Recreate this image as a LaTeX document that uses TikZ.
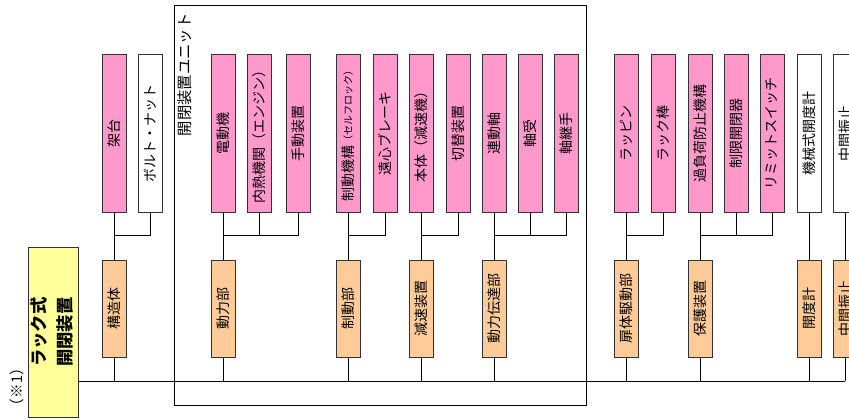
\documentclass[tikz,border=0pt]{standalone}
\usepackage{fontspec}
\setmainfont{Noto Sans CJK JP}
\usepackage{graphicx}
\definecolor{partpink}{HTML}{FF99CC}
\definecolor{grouporange}{HTML}{FFCC99}
\definecolor{rootyellow}{HTML}{FFFF99}
\definecolor{edgegray}{HTML}{333333}
\newcommand{\vtxt}[1]{\rotatebox{90}{#1}}
\tikzset{
  box/.style={draw=edgegray, line width=0.75pt, inner sep=0pt, font=\fontsize{10.5}{12}\selectfont},
  part/.style={box, fill=partpink, minimum width=18pt, minimum height=118.5pt},
  partw/.style={part, fill=white},
  grp/.style={box, fill=grouporange, minimum width=18pt, minimum height=72.75pt},
  root/.style={box, fill=rootyellow, minimum width=36.75pt, minimum height=127.5pt, font=\fontsize{13}{19}\selectfont\bfseries},
}
\begin{document}
\begin{tikzpicture}[x=0.75pt, y=-0.75pt, line width=0.75pt]
\useasboundingbox (0,0) rectangle (849,419);
\coordinate (brk) at (0,235);
\coordinate (bus) at (0,381);
% unit frame
\draw (174,5) rectangle (586,405);
\node (unitlabel) [anchor=north west, inner sep=0pt, font=\fontsize{11.5}{13}\selectfont] at (177,13) {\vtxt{開閉装置ユニット}};
% root
\node (root) [root] at (53.5,332) {\vtxt{\begin{tabular}{@{}c@{}}ラック式\\開閉装置\end{tabular}}};
\node (note) [font=\fontsize{11}{12}\selectfont] at (17,387) {\vtxt{（※1）}};
% parts
\node (kadai) [part] at (114,133) {\vtxt{架台}};
\node (bolt) [partw] at (150,133) {\vtxt{ボルト・ナット}};
\node (motor) [part] at (223,133) {\vtxt{電動機}};
\node (engine) [part] at (259,133) {\vtxt{内熱機関（エンジン）}};
\node (manual) [part] at (298,133) {\vtxt{手動装置}};
\node (brake) [part] at (348,133) {\vtxt{制動機構\raisebox{1pt}{\fontsize{7.5}{8}\selectfont（セルフロック）}}};
\node (cbrake) [part] at (385,133) {\vtxt{遠心ブレーキ}};
\node (gearbox) [part] at (421,133) {\vtxt{本体（減速機）}};
\node (changer) [part] at (458,133) {\vtxt{切替装置}};
\node (shaft) [part] at (494,133) {\vtxt{連動軸}};
\node (bearing) [part] at (530,133) {\vtxt{軸受}};
\node (coupling) [part] at (566,133) {\vtxt{軸継手}};
\node (pin) [part] at (626,133) {\vtxt{ラッピン}};
\node (rack) [part] at (663,133) {\vtxt{ラック棒}};
\node (overload) [part] at (700,133) {\vtxt{過負荷防止機構}};
\node (limit) [part] at (736,133) {\vtxt{制限開閉器}};
\node (lswitch) [part] at (772,133) {\vtxt{リミットスイッチ}};
\node (mgauge) [partw] at (809,133) {\vtxt{機械式開度計}};
\node (steadyT) [partw] at (845,133) {\vtxt{中間振止}};
% groups
\node (struct) [grp] at (114,308.5) {\vtxt{構造体}};
\node (power) [grp] at (223,308.5) {\vtxt{動力部}};
\node (braking) [grp] at (348,308.5) {\vtxt{制動部}};
\node (reducer) [grp] at (421,308.5) {\vtxt{減速装置}};
\node (trans) [grp] at (494,308.5) {\vtxt{動力伝達部}};
\node (drive) [grp] at (626,308.5) {\vtxt{扉体駆動部}};
\node (protect) [grp] at (700,308.5) {\vtxt{保護装置}};
\node (meter) [grp] at (809,308.5) {\vtxt{開度計}};
\node (steadyB) [grp] at (845,308.5) {\vtxt{中間振止}};
% parts to groups
\draw (kadai.south) -- (struct.north);
\draw (bolt.south) |- (struct.north |- brk);
\draw (motor.south) -- (power.north);
\foreach \c in {engine,manual} \draw (\c.south) |- (power.north |- brk);
\draw (brake.south) -- (braking.north);
\draw (cbrake.south) |- (braking.north |- brk);
\draw (gearbox.south) -- (reducer.north);
\draw (changer.south) |- (reducer.north |- brk);
\draw (shaft.south) -- (trans.north);
\foreach \c in {bearing,coupling} \draw (\c.south) |- (trans.north |- brk);
\draw (pin.south) -- (drive.north);
\draw (rack.south) |- (drive.north |- brk);
\draw (overload.south) -- (protect.north);
\foreach \c in {limit,lswitch} \draw (\c.south) |- (protect.north |- brk);
\draw (mgauge.south) -- (meter.north);
\draw (steadyT.south) -- (steadyB.north);
% groups to root
\draw (root.east |- bus) -- (steadyB.south |- bus);
\foreach \g in {struct,power,braking,reducer,trans,drive,protect,meter,steadyB}
  \draw (\g.south) -- (\g.south |- bus);
\end{tikzpicture}
\end{document}
